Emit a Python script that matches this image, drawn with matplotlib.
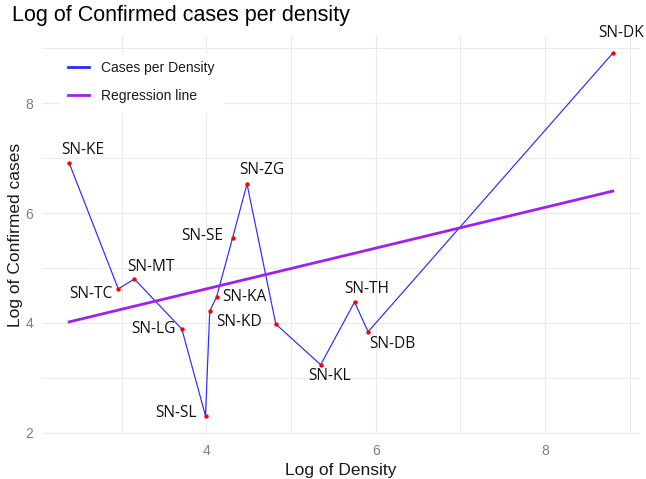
import matplotlib
matplotlib.use("Agg")
import matplotlib.pyplot as plt
from matplotlib.ticker import MultipleLocator
import numpy as np

# values (log density, log confirmed cases)
regions = ["SN-KE", "SN-TC", "SN-MT", "SN-LG", "SN-SL", "SN-KD", "SN-KA",
           "SN-SE", "SN-ZG", "", "SN-KL", "SN-TH", "SN-DB", "SN-DK"]
log_density = [2.38, 2.96, 3.15, 3.71, 3.99, 4.04, 4.12,
               4.31, 4.48, 4.82, 5.35, 5.75, 5.91, 8.80]
log_cases = [6.91, 4.62, 4.80, 3.89, 2.31, 4.22, 4.47,
             5.55, 6.53, 3.98, 3.24, 4.38, 3.84, 8.91]

# regression line end values
reg_x = [2.38, 8.80]
reg_y = [4.02, 6.40]

# label offsets in pixels (dx right, dy down), layout only
label_offsets = {
    "SN-KE": (14, -13), "SN-TC": (-27, 5), "SN-MT": (17, -12),
    "SN-LG": (-28, 0), "SN-SL": (-30, -3), "SN-KD": (29, 11),
    "SN-KA": (28, 0), "SN-SE": (-30, -2), "SN-ZG": (15, -14),
    "SN-KL": (9, 11), "SN-TH": (12, -13), "SN-DB": (24, 12),
    "SN-DK": (8, -20),
}

W, H = 646, 479
fig = plt.figure(figsize=(W / 100, H / 100), dpi=100)
ax = fig.add_axes([42 / W, 1 - 434 / H, (640 - 42) / W, (434 - 35) / H])

ax.plot(log_density, log_cases, color="#2a2aff", lw=0.85, zorder=3,
        label="Cases per Density")
ax.plot(reg_x, reg_y, color="#A020F0", lw=2.0, zorder=4,
        label="Regression line")
ax.scatter(log_density, log_cases, s=10, color="red", zorder=5, linewidths=0)

for name, x, y in zip(regions, log_density, log_cases):
    if not name:
        continue
    dx, dy = label_offsets[name]
    ax.annotate(name, (x, y), xytext=(dx * 0.72, -dy * 0.72),
                textcoords="offset points", ha="center", va="center",
                fontsize=11.2, family="Open Sans", color="#111111", zorder=6)

# ggplot-like 5% expansion
xr = max(log_density) - min(log_density)
yr = max(log_cases) - min(log_cases)
ax.set_xlim(min(log_density) - 0.05 * xr, max(log_density) + 0.05 * xr)
ax.set_ylim(min(log_cases) - 0.05 * yr, max(log_cases) + 0.05 * yr)

ax.xaxis.set_major_locator(MultipleLocator(2))
ax.yaxis.set_major_locator(MultipleLocator(2))
ax.xaxis.set_minor_locator(MultipleLocator(1))
ax.yaxis.set_minor_locator(MultipleLocator(1))
ax.grid(which="major", color="#EBEBEB", lw=1.0)
ax.grid(which="minor", color="#EBEBEB", lw=0.7)
ax.set_axisbelow(True)
for s in ax.spines.values():
    s.set_visible(False)
ax.tick_params(which="both", length=0)
ax.tick_params(axis="y", pad=6.5, labelsize=10, labelcolor="#7f7f7f")
ax.tick_params(axis="x", pad=7, labelsize=10, labelcolor="#7f7f7f")
for lab in ax.get_xticklabels() + ax.get_yticklabels():
    lab.set_family("Liberation Sans")

ax.set_xlabel("Log of Density", fontsize=12.5, family="Liberation Sans",
              color="#1a1a1a", labelpad=4)
ax.set_ylabel("Log of Confirmed cases", fontsize=12.5, family="Liberation Sans",
              color="#1a1a1a", labelpad=1.5)
fig.text(12 / W, 1 - 16 / H, "Log of Confirmed cases per density",
         fontsize=15.5, family="Liberation Sans", va="center", ha="left")

leg = ax.legend(loc="upper left", bbox_to_anchor=(60 / W, 1 - 53 / H),
                bbox_transform=fig.transFigure, borderaxespad=0,
                frameon=True, fancybox=False, edgecolor="white",
                facecolor="white", framealpha=1, handlelength=1.5,
                handletextpad=0.85, labelspacing=0.95, borderpad=0.6,
                prop={"family": "Liberation Sans", "size": 10})
for t in leg.get_texts():
    t.set_color("#1a1a1a")
for h in leg.legend_handles:
    h.set_linewidth(2.0)

fig.savefig("out.png", dpi=100, facecolor="white")
